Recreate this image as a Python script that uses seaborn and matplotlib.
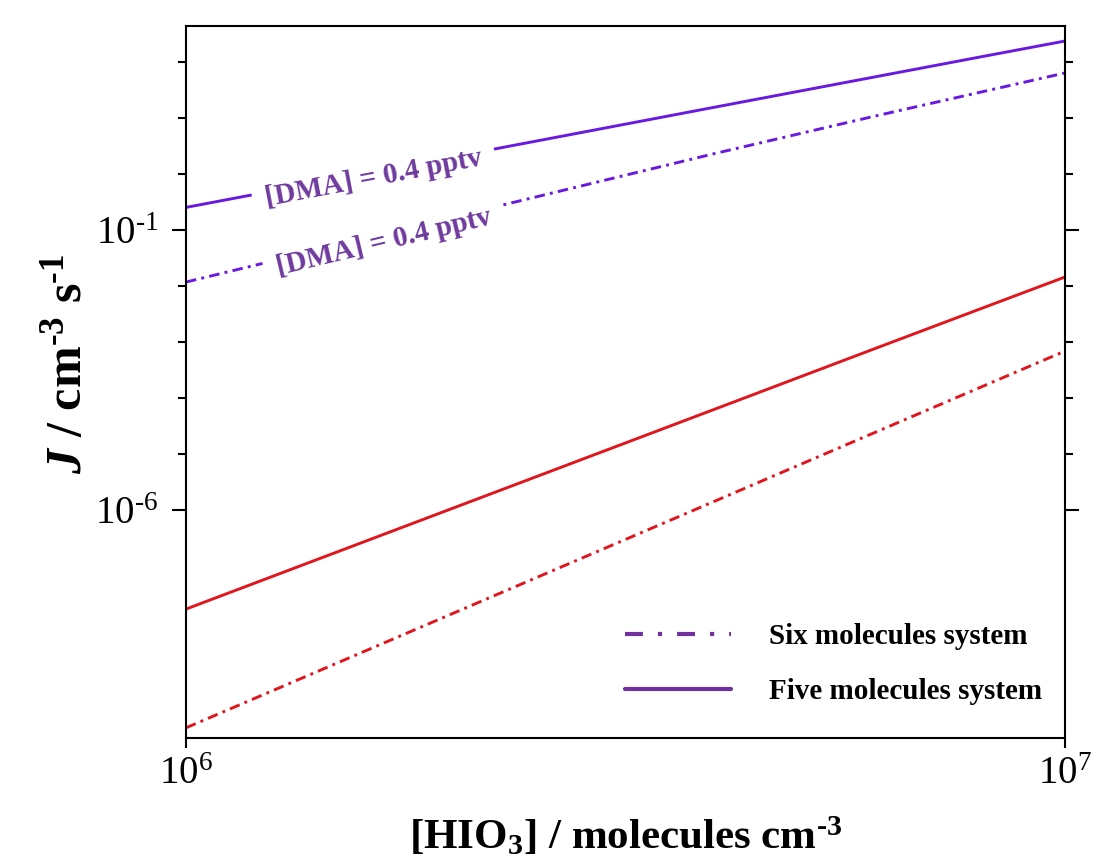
import matplotlib
matplotlib.use("Agg")
import matplotlib.pyplot as plt
import seaborn as sns
import pandas as pd
from matplotlib.lines import Line2D
from matplotlib.ticker import FixedLocator, FixedFormatter, NullLocator, NullFormatter

# ---------------- data ----------------
hio3 = [1e6, 2e6, 4e6, 6e6, 8e6, 1e7]
j_five_dma = [0.2535, 1.986, 15.67, 52.2, 122.7, 237.0]
j_six_dma = [0.01178, 0.1663, 2.333, 10.33, 28.77, 63.7]
j_five_red = [1.706e-8, 1.042e-6, 6.37e-5, 7.08e-4, 3.88e-3, 1.449e-2]
j_six_red = [1.294e-10, 1.371e-8, 1.452e-6, 2.228e-5, 1.538e-4, 6.90e-4]

series_names = ["five_dma", "six_dma", "five_red", "six_red"]
series_values = [j_five_dma, j_six_dma, j_five_red, j_six_red]

HY = "\u2010"  # short hyphen used as the exponent sign in the reference
x_ticks = [1e6, 1e7]
x_tick_labels = [r"$\mathregular{10^{6}}$", r"$\mathregular{10^{7}}$"]
y_major_ticks = [1e-6, 1e-1]
y_tick_labels = [r"$\mathregular{10^{" + HY + "6}}$", r"$\mathregular{10^{" + HY + "1}}$"]
y_minor_ticks = [1e-5, 1e-4, 1e-3, 1e-2, 1e0, 1e1, 1e2]

legend_labels = ["Six molecules system", "Five molecules system"]
annotation_text = "[DMA] = 0.4 pptv"

df = pd.DataFrame({
    "HIO3": [x for _ in series_names for x in hio3],
    "J": [v for vals in series_values for v in vals],
    "series": [n for n in series_names for _ in hio3],
})

# ---------------- styling ----------------
sns.set_style("ticks")
plt.rcParams["font.family"] = ["Liberation Serif", "DejaVu Serif"]
plt.rcParams["mathtext.fontset"] = "custom"
plt.rcParams["mathtext.rm"] = "Liberation Serif"
plt.rcParams["mathtext.it"] = "Liberation Serif:italic:bold"
plt.rcParams["mathtext.bf"] = "Liberation Serif:bold"
plt.rcParams["text.color"] = "black"
plt.rcParams["axes.labelcolor"] = "black"
plt.rcParams["xtick.color"] = "black"
plt.rcParams["ytick.color"] = "black"

PURPLE = "#6A1AE0"
RED = "#E0161E"
TEXT_PURPLE = "#6F3B9E"
LEG_PURPLE = "#7030A0"
DASHDOT = (0, (3.6, 1.8, 1.0, 1.8))

styles = {
    "five_dma": dict(color=PURPLE, linestyle="-"),
    "six_dma": dict(color=PURPLE, linestyle=DASHDOT),
    "five_red": dict(color=RED, linestyle="-"),
    "six_red": dict(color=RED, linestyle=DASHDOT),
}

W, H = 1099, 857
fig = plt.figure(figsize=(W / 100, H / 100), dpi=100)
ax = fig.add_axes([186 / W, 1 - 738 / H, (1065 - 186) / W, (738 - 26) / H])
ax.set_xscale("log")
ax.set_yscale("log")

for name in series_names:
    sub = df[df["series"] == name]
    sns.lineplot(data=sub, x="HIO3", y="J", ax=ax, lw=2.1, **styles[name])

ax.set_xlim(1e6, 1e7)
ax.set_ylim(10 ** -10.07, 10 ** 2.643)

# ticks
ax.xaxis.set_major_locator(FixedLocator(x_ticks))
ax.xaxis.set_major_formatter(FixedFormatter(x_tick_labels))
ax.xaxis.set_minor_locator(NullLocator())
ax.yaxis.set_major_locator(FixedLocator(y_major_ticks))
ax.yaxis.set_major_formatter(FixedFormatter(y_tick_labels))
ax.yaxis.set_minor_locator(FixedLocator(y_minor_ticks))
ax.yaxis.set_minor_formatter(NullFormatter())

ax.tick_params(axis="x", which="major", direction="out", length=7, width=1.5,
               bottom=True, top=False, labelsize=28, pad=6)
ax.tick_params(axis="y", which="major", direction="out", length=10, width=1.5,
               left=True, right=True, labelsize=28, pad=10)
ax.tick_params(axis="y", which="minor", direction="out", length=6, width=1.5,
               left=True, right=True)

for sp in ax.spines.values():
    sp.set_visible(True)
    sp.set_linewidth(1.5)
    sp.set_color("black")

# axis labels
ax.set_ylabel(r"$J$ / cm$^{\mathregular{" + HY + "3}}$ s$^{\mathregular{" + HY + "1}}$",
              fontsize=36, fontweight="bold")
ax.yaxis.set_label_coords(-0.107, 0.525)
ax.set_xlabel(r"[HIO$_{\mathregular{3}}$] / molecules cm$^{\mathregular{" + HY + "3}}$",
              fontsize=31, fontweight="bold")
ax.xaxis.set_label_coords(0.5, -0.108)

# in-line annotations
box = dict(boxstyle="square,pad=0.45", fc="white", ec="none")
ax.text(1.636e6, 0.848, annotation_text, rotation=10.7, ha="center", va="center",
        rotation_mode="anchor", fontsize=21, fontweight="bold",
        color=TEXT_PURPLE, bbox=box, zorder=5)
ax.text(1.68e6, 0.0611, annotation_text, rotation=13.4, ha="center", va="center",
        rotation_mode="anchor", fontsize=21, fontweight="bold",
        color=TEXT_PURPLE, bbox=box, zorder=5)

# legend
handles = [
    Line2D([], [], color=LEG_PURPLE, lw=3, linestyle=(0, (4.3, 3.6, 1.0, 3.6))),
    Line2D([], [], color=LEG_PURPLE, lw=3, linestyle="-"),
]
ax.legend(handles, legend_labels, loc="upper left", bbox_to_anchor=(0.4994, 0.161),
          frameon=False, prop={"weight": "bold", "size": 21},
          handlelength=3.65, handletextpad=1.3, labelspacing=0.94,
          borderpad=0, borderaxespad=0)

fig.savefig("out.png", dpi=100)
